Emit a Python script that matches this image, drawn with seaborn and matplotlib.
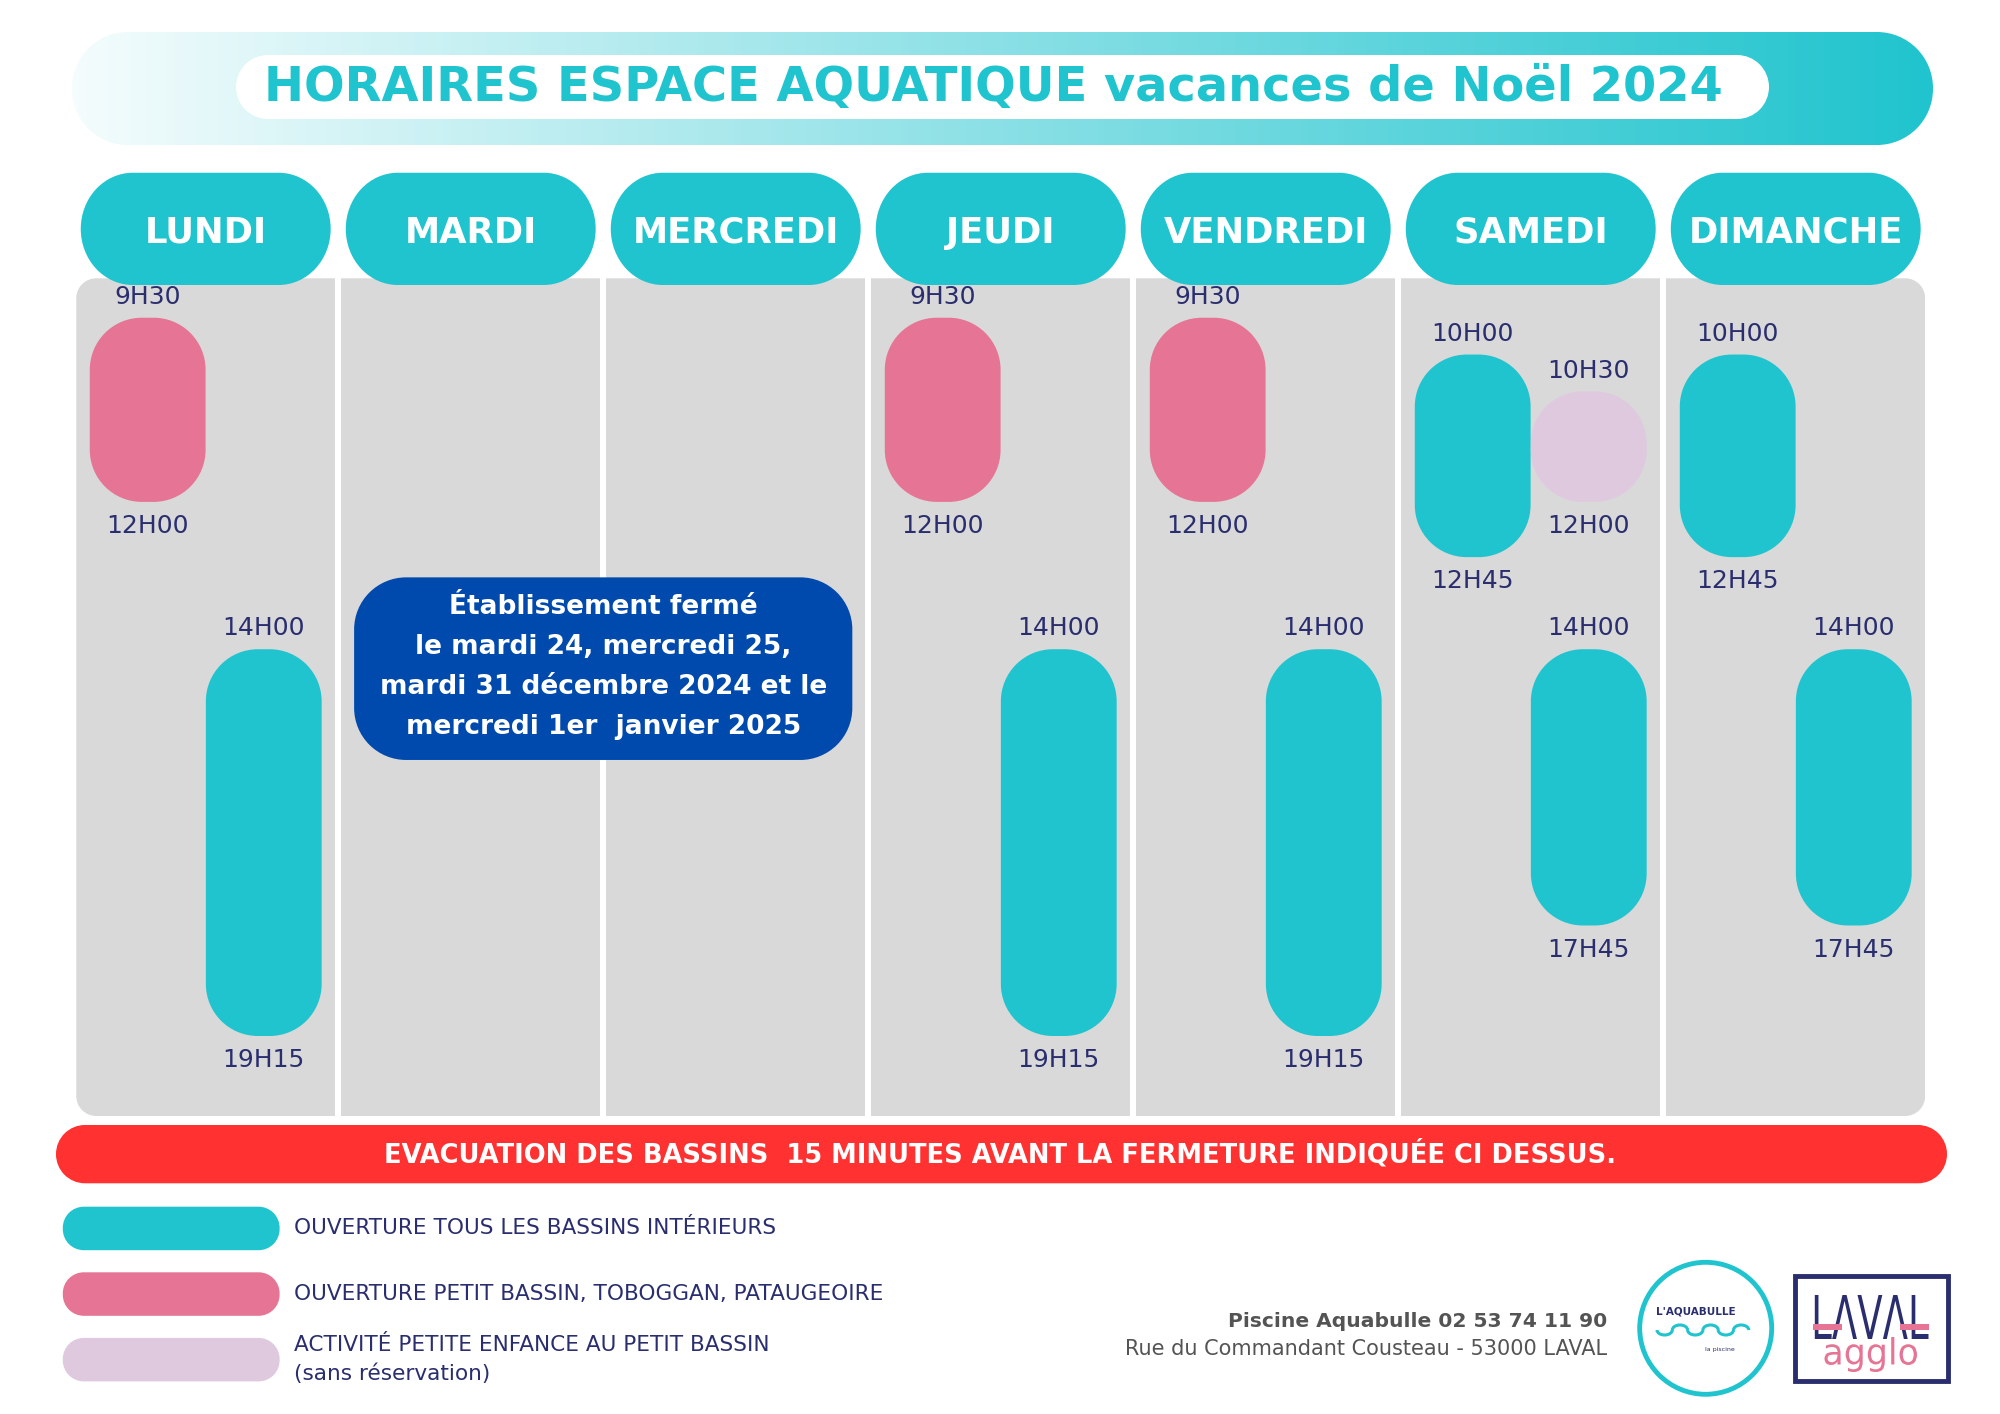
import numpy as np
import matplotlib
matplotlib.use("Agg")
import matplotlib.pyplot as plt
import matplotlib.transforms as mtransforms
from matplotlib.patches import Circle, Arc, Rectangle, PathPatch
from matplotlib.path import Path
from matplotlib.colors import LinearSegmentedColormap
from matplotlib.textpath import TextPath
from matplotlib.font_manager import FontProperties
import seaborn as sns

# Données du planning
jours = ["LUNDI", "MARDI", "MERCREDI", "JEUDI", "VENDREDI", "SAMEDI", "DIMANCHE"]

seance_jour = ["LUNDI", "LUNDI", "JEUDI", "JEUDI", "VENDREDI", "VENDREDI",
               "SAMEDI", "SAMEDI", "SAMEDI", "DIMANCHE", "DIMANCHE"]
seance_couloir = [0, 1, 0, 1, 0, 1, 0, 1, 1, 0, 1]
seance_debut = [9.5, 14, 9.5, 14, 9.5, 14, 10, 10.5, 14, 10, 14]
seance_fin = [12, 19.25, 12, 19.25, 12, 19.25, 12.75, 12, 17.75, 12.75, 17.75]
seance_type = ["petit", "tous", "petit", "tous", "petit", "tous",
               "tous", "enfance", "tous", "tous", "tous"]

legende_type = ["tous", "petit", "enfance"]
legende_texte = ["OUVERTURE TOUS LES BASSINS INTÉRIEURS",
                 "OUVERTURE PETIT BASSIN, TOBOGGAN, PATAUGEOIRE",
                 "ACTIVITÉ PETITE ENFANCE AU PETIT BASSIN\n(sans réservation)"]

titre = "HORAIRES ESPACE AQUATIQUE vacances de Noël 2024"
fermeture = ("Établissement fermé\nle mardi 24, mercredi 25,\n"
             "mardi 31 décembre 2024 et le\nmercredi 1er  janvier 2025")
evacuation = "EVACUATION DES BASSINS  15 MINUTES AVANT LA FERMETURE INDIQUÉE CI DESSUS."
adresse_nom = "Piscine Aquabulle 02 53 74 11 90"
adresse_rue = "Rue du Commandant Cousteau - 53000 LAVAL"

# Couleurs
TURQUOISE = "#20C4CE"
ROSE = "#E67494"
LILAS = "#DFC9DF"
GRIS = "#D9D9D9"
MARINE = "#2A2E6E"
BLEU = "#004AAD"
ROUGE = "#FF3131"
GRIS_TXT = "#545454"
couleurs = {"tous": TURQUOISE, "petit": ROSE, "enfance": LILAS}

# plage horaire visible dans la grille
h_haut, h_bas = 8.965, 20.336


def heure(h):
    return f"{int(h)}H{int(round((h - int(h)) * 60)):02d}"


def pilule(axe, x, y, w, h, rx_px, couleur, ry_px=None, transform=None, **kw):
    # rectangle à coins elliptiques, rayons donnés en pixels
    tr = transform if transform is not None else axe.transData
    p0 = tr.transform((x, y))
    p1 = tr.transform((x + w, y + h))
    wpx, hpx = abs(p1[0] - p0[0]), abs(p1[1] - p0[1])
    sx, sy = wpx / abs(w), hpx / abs(h)
    ry_px = rx_px if ry_px is None else ry_px
    rx = min(rx_px, wpx / 2) / sx
    ry = min(ry_px, hpx / 2) / sy
    coins = [(x + w - rx, y + ry, 270, 360), (x + w - rx, y + h - ry, 0, 90),
             (x + rx, y + h - ry, 90, 180), (x + rx, y + ry, 180, 270)]
    verts, codes = [], []
    for cx, cy, t1, t2 in coins:
        arc = Path.arc(t1, t2)
        verts.extend(arc.vertices * [rx, ry] + [cx, cy])
        c = list(arc.codes)
        c[0] = Path.MOVETO if not codes else Path.LINETO
        codes.extend(c)
    verts.append(verts[0])
    codes.append(Path.CLOSEPOLY)
    patch = PathPatch(Path(verts, codes), transform=tr, fc=couleur, ec="none", **kw)
    axe.add_patch(patch)
    return patch


def texte_etire(axe, s, x0, x1, y_bas, y_haut, couleur, **fp):
    tp = TextPath((0, 0), s, size=100, prop=FontProperties(**fp))
    bb = tp.get_extents()
    tr = (mtransforms.Affine2D().translate(-bb.x0, -bb.y0)
          .scale((x1 - x0) / bb.width, -(y_bas - y_haut) / bb.height)
          .translate(x0, y_bas) + axe.transData)
    axe.add_patch(PathPatch(tp, transform=tr, fc=couleur, ec="none"))


def main():
    sns.set_theme(style="white")
    plt.rcParams["font.family"] = ["DejaVu Sans"]

    fig = plt.figure(figsize=(20, 14.14), dpi=100)
    fig.patch.set_facecolor("white")

    # fond en pixels pour la mise en page
    fond = fig.add_axes([0, 0, 1, 1], zorder=0)
    fond.set_xlim(0, 2000)
    fond.set_ylim(1414, 0)
    fond.set_axis_off()
    fond.set_autoscale_on(False)

    # bandeau titre en dégradé
    bandeau = pilule(fond, 72, 32, 1861, 113, 56, "none")
    cmap = LinearSegmentedColormap.from_list("bandeau", ["#F4FCFD", TURQUOISE])
    degrade = fond.imshow(np.linspace(0, 1, 256)[None, :], cmap=cmap,
                          extent=(72, 1933, 145, 32), aspect="auto", zorder=1)
    degrade.set_clip_path(bandeau)
    pilule(fond, 236, 55, 1533, 64, 32, "white", zorder=2)
    fond.text(993, 100.7, titre, ha="center", va="baseline", fontsize=34.5,
              fontweight="bold", color=TURQUOISE, zorder=3)

    # grille des jours
    ax = fig.add_axes([75.6 / 2000, 1 - 1116 / 1414, 1857.4 / 2000, 837.7 / 1414], zorder=1)
    sns.barplot(x=jours, y=[h_bas] * len(jours), order=jours, color=GRIS,
                saturation=1, width=0.977, linewidth=0, ax=ax)
    ax.set_xlim(-0.491, 6.518)
    ax.set_ylim(h_bas, h_haut)
    ax.set_axis_off()

    # coins extérieurs arrondis de la grille
    cadre = pilule(ax, -0.4885, h_haut, 6.977, h_bas - h_haut, 20, "none")
    for barre in ax.patches[:len(jours)]:
        barre.set_clip_path(cadre)

    mixte = mtransforms.blended_transform_factory(ax.transData, ax.transAxes)
    for i, jour in enumerate(jours):
        pilule(ax, i - 0.4715, 0.992, 0.943, 0.134, 52, TURQUOISE, ry_px=56,
               transform=mixte, clip_on=False, zorder=5)
        ax.text(i, 1.0425, jour, transform=mixte, ha="center", va="baseline",
                color="white", fontsize=25.5, fontweight="bold", zorder=6)

    largeur = 0.437
    for j, c, d, f, t in zip(seance_jour, seance_couloir, seance_debut, seance_fin, seance_type):
        xc = jours.index(j) + (-0.219 if c == 0 else 0.219)
        pilule(ax, xc - largeur / 2, d, largeur, f - d, 52, couleurs[t], zorder=3)
        ax.annotate(heure(d), (xc, d), xytext=(0, 15), textcoords="offset points",
                    ha="center", va="center", fontsize=18, color=MARINE)
        ax.annotate(heure(f), (xc, f), xytext=(0, -17.5), textcoords="offset points",
                    ha="center", va="center", fontsize=18, color=MARINE)

    # encadré fermeture (entre mardi et mercredi)
    pilule(ax, 1.5 - 0.94, 0.425, 1.88, 0.218, 52, BLEU, transform=mixte, zorder=4)
    ax.text(1.5, 0.536, fermeture, transform=mixte, ha="center", va="center",
            multialignment="center", fontsize=19, fontweight="bold", color="white",
            linespacing=1.69, zorder=5)

    # bandeau évacuation
    pilule(fond, 56, 1125, 1891, 58.3, 29, ROUGE)
    fond.text(1000, 1162.7, evacuation, ha="center", va="baseline", fontsize=18.5,
              fontweight="bold", color="white")

    # légende
    for k, (t, lab) in enumerate(zip(legende_type, legende_texte)):
        y0 = 1206.7 + 65.6 * k
        pilule(fond, 62.8, y0, 216.8, 43.5, 21, couleurs[t])
        fond.text(293.6, y0 + 21.7, lab, ha="left", va="center", fontsize=15.6,
                  color=MARINE, linespacing=1.5)

    # adresse
    fond.text(1607, 1327.3, adresse_nom, ha="right", va="baseline", fontsize=14.6,
              fontweight="bold", color=GRIS_TXT)
    fond.text(1607, 1355, adresse_rue, ha="right", va="baseline", fontsize=15,
              color=GRIS_TXT)

    # logo Aquabulle
    fond.add_patch(Circle((1705.7, 1328.3), 66, fill=False, ec=TURQUOISE, lw=3.5))
    fond.text(1696, 1315, "L'AQUABULLE", ha="center", va="baseline", fontsize=7.5,
              fontweight="bold", color=MARINE)
    for k in range(6):
        fond.add_patch(Arc((1657 + 15.3 * (k + 0.5), 1330), 15.3, 10,
                           theta1=0 if k % 2 == 0 else 180,
                           theta2=180 if k % 2 == 0 else 360,
                           ec=TURQUOISE, lw=2.2))
    fond.text(1720, 1349, "la piscine", ha="center", va="center", fontsize=4.5, color=MARINE)

    # logo Laval agglo
    fond.add_patch(Rectangle((1795, 1275.5), 152.5, 105, fill=False, ec=MARINE, lw=3.5))
    texte_etire(fond, "LΛVΛL", 1814.8, 1928.5, 1339, 1295, MARINE, family="DejaVu Sans")
    fond.add_patch(Rectangle((1813, 1324), 29, 6, fc=ROSE, ec="none"))
    fond.add_patch(Rectangle((1900, 1324), 29, 6, fc=ROSE, ec="none"))
    texte_etire(fond, "agglo", 1824.5, 1917, 1372, 1337, ROSE, family="DejaVu Sans")

    fig.savefig("out.png", dpi=100)


if __name__ == "__main__":
    main()
